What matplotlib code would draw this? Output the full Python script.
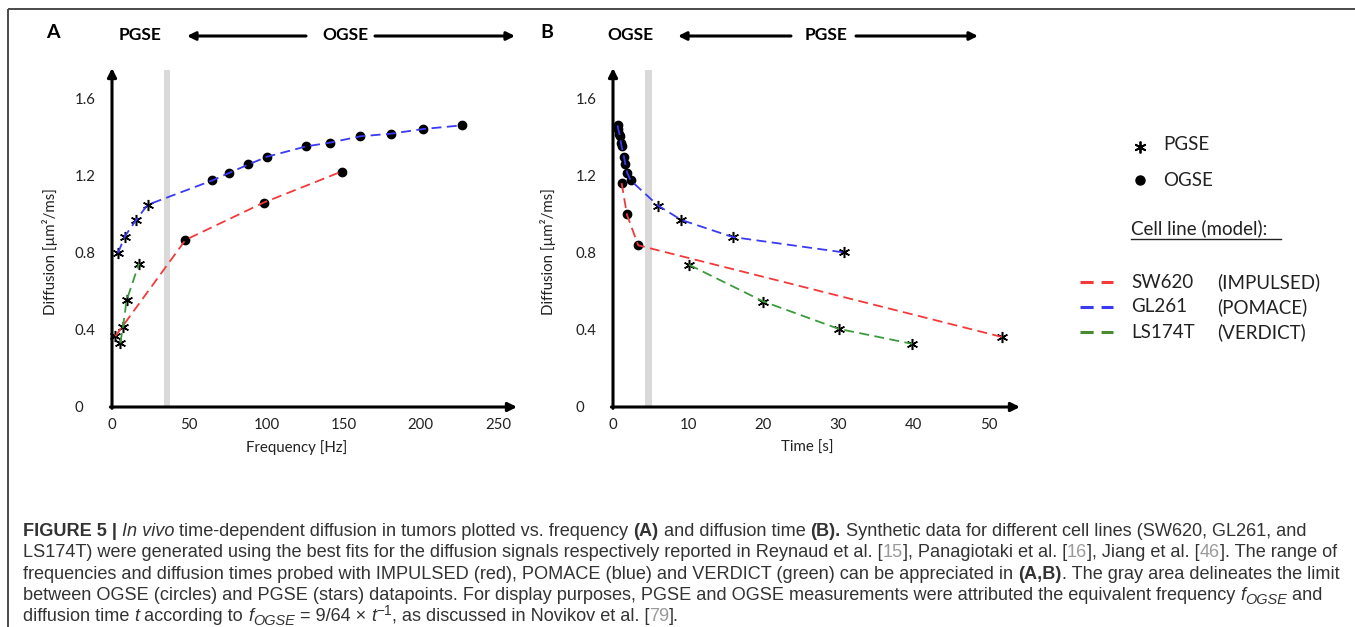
import matplotlib
matplotlib.use("Agg")
import matplotlib.pyplot as plt

# ---------------- data ----------------
# Panel A : frequency [Hz] vs diffusion
red_A_pgse_f = [2.2]
red_A_pgse_D = [0.368]
red_A_ogse_f = [47.6, 98.3, 148.7]
red_A_ogse_D = [0.868, 1.062, 1.223]

blue_A_pgse_f = [3.9, 8.2, 15.5, 23.0]
blue_A_pgse_D = [0.800, 0.885, 0.970, 1.050]
blue_A_ogse_f = [65.0, 75.6, 88.4, 100.4, 125.9, 141.0, 160.8, 181.0, 201.5, 226.5]
blue_A_ogse_D = [1.177, 1.215, 1.260, 1.300, 1.354, 1.373, 1.406, 1.420, 1.444, 1.463]

green_A_pgse_f = [5.4, 7.1, 9.5, 17.5]
green_A_pgse_D = [0.333, 0.416, 0.555, 0.745]

# Panel B : time [s] vs diffusion
red_B_ogse_t = [1.15, 1.85, 3.35]
red_B_ogse_D = [1.163, 1.000, 0.840]
red_B_pgse_t = [51.7]
red_B_pgse_D = [0.364]

blue_B_ogse_t = [0.60, 0.70, 0.85, 0.95, 1.05, 1.15, 1.45, 1.65, 1.90, 2.35]
blue_B_ogse_D = [1.463, 1.444, 1.420, 1.406, 1.373, 1.354, 1.300, 1.260, 1.215, 1.177]
blue_B_pgse_t = [6.0, 9.07, 15.9, 30.7]
blue_B_pgse_D = [1.046, 0.972, 0.883, 0.803]

green_B_pgse_t = [10.1, 20.0, 30.0, 39.8]
green_B_pgse_D = [0.739, 0.548, 0.406, 0.328]

xticks_A = [0, 50, 100, 150, 200, 250]
xticks_B = [0, 10, 20, 30, 40, 50]
yticks = [0, 0.4, 0.8, 1.2, 1.6]
ytick_labels = ["0", "0.4", "0.8", "1.2", "1.6"]

series_names = ["SW620", "GL261", "LS174T"]
model_names = ["(IMPULSED)", "(POMACE)", "(VERDICT)"]

# ---------------- style ----------------
W, H = 1355, 627
DPI = 100
RED, BLUE, GREEN = "#f23a3a", "#3a3af5", "#3c9a3c"
LEG_GREEN = "#4a8a30"
BAND = "#d9d9d9"
CHART_FONT = "Lato"
CAP_FONT = "Liberation Sans"
TXT = "#222222"
ASTER = (6, 2, 0)

plt.rcParams["font.family"] = [CHART_FONT, "DejaVu Sans"]

fig = plt.figure(figsize=(W / DPI, H / DPI), dpi=DPI)
fig.patch.set_facecolor("white")

# overlay in pixel coordinates (y downward)
ov = fig.add_axes([0, 0, 1, 1])
ov.set_xlim(0, W)
ov.set_ylim(H, 0)
ov.axis("off")


def px_axes(left, right, top, bottom):
    return fig.add_axes([left / W, (H - bottom) / H, (right - left) / W, (bottom - top) / H])


def setup(ax, xmax, xticks, band):
    ax.set_facecolor("none")
    ax.set_xlim(0, xmax)
    ax.set_ylim(0, 1.761)
    for s in ax.spines.values():
        s.set_visible(False)
    ax.set_xticks(xticks)
    ax.set_xticklabels([str(v) for v in xticks])
    ax.set_yticks(yticks)
    ax.set_yticklabels(ytick_labels)
    ax.tick_params(length=0, labelsize=10.8, labelcolor=TXT)
    ax.tick_params(axis="x", pad=8)
    ax.tick_params(axis="y", pad=27)
    for lab in ax.get_yticklabels():
        lab.set_ha("left")
    ax.axvspan(band[0], band[1], ymin=0, ymax=0.994, color=BAND, lw=0, zorder=0)
    ap = dict(arrowstyle="-|>", lw=2.2, color="black", mutation_scale=13,
              shrinkA=0, shrinkB=0)
    ax.annotate("", xy=(1.0, 0), xytext=(-0.004, 0), xycoords="axes fraction",
                textcoords="axes fraction", arrowprops=ap, annotation_clip=False)
    ax.annotate("", xy=(0, 1.0), xytext=(0, -0.004), xycoords="axes fraction",
                textcoords="axes fraction", arrowprops=ap, annotation_clip=False)


def series(ax, xs_star, ys_star, xs_circ, ys_circ, color):
    if xs_star:
        ax.plot(xs_star, ys_star, ls="none", marker=ASTER, ms=8, mew=1.1,
                mec="black", zorder=3, clip_on=False)
    if xs_circ:
        ax.plot(xs_circ, ys_circ, ls="none", marker="o", ms=6, mfc="black",
                mec="black", zorder=3, clip_on=False)
    pts = sorted(zip(list(xs_star) + list(xs_circ), list(ys_star) + list(ys_circ)))
    ax.plot([p[0] for p in pts], [p[1] for p in pts], color=color, lw=1.3,
            dashes=(5.5, 3.0), zorder=4, clip_on=False)


# ---------------- panel A ----------------
axA = px_axes(112, 517, 68, 407)
setup(axA, 405 / 1.544, xticks_A, (33.4, 37.7))
series(axA, red_A_pgse_f, red_A_pgse_D, red_A_ogse_f, red_A_ogse_D, RED)
series(axA, blue_A_pgse_f, blue_A_pgse_D, blue_A_ogse_f, blue_A_ogse_D, BLUE)
series(axA, green_A_pgse_f, green_A_pgse_D, [], [], GREEN)

# ---------------- panel B ----------------
axB = px_axes(613, 1020, 68, 407)
setup(axB, 407 / 7.52, xticks_B, (4.23, 5.2))
series(axB, red_B_pgse_t, red_B_pgse_D, red_B_ogse_t, red_B_ogse_D, RED)
series(axB, blue_B_pgse_t, blue_B_pgse_D, blue_B_ogse_t, blue_B_ogse_D, BLUE)
series(axB, green_B_pgse_t, green_B_pgse_D, [], [], GREEN)

# axis labels (pixel positions)
ylab = "Diffusion [µm²/ms]"
ov.text(297, 448, "Frequency [Hz]", ha="center", va="center", fontsize=10.8, color=TXT)
ov.text(807, 448, "Time [s]", ha="center", va="center", fontsize=10.8, color=TXT)
ov.text(50, 252, ylab, ha="center", va="center", rotation=90, fontsize=10.8, color=TXT)
ov.text(548, 252, ylab, ha="center", va="center", rotation=90, fontsize=10.8, color=TXT)

# ---------------- headers ----------------
hdr = dict(fontsize=12.5, fontweight="bold", va="center", color="black")
ov.text(53, 33, "A", ha="center", fontsize=14, fontweight="bold", va="center", color="black")
ov.text(140, 35, "PGSE", ha="center", **hdr)
ov.text(345, 35, "OGSE", ha="center", **hdr)
ov.text(547, 33, "B", ha="center", fontsize=14, fontweight="bold", va="center", color="black")
ov.text(630, 35, "OGSE", ha="center", **hdr)
ov.text(826, 35, "PGSE", ha="center", **hdr)
hap = dict(arrowstyle="-|>", lw=2.2, color="black", mutation_scale=12, shrinkA=0, shrinkB=0)
for tip, start in [((187, 36), (306, 36)), ((515, 36), (375, 36)),
                   ((678, 36), (791, 36)), ((978, 36), (856, 36))]:
    ov.annotate("", xy=tip, xytext=start, arrowprops=hap)

# ---------------- legend ----------------
ov.plot([1140], [147], ls="none", marker=ASTER, ms=8.5, mew=1.3, mec="black")
ov.plot([1140], [180], ls="none", marker="o", ms=6.5, mfc="black", mec="black")
leg = dict(fontsize=13.5, va="center", ha="left", color=TXT)
ov.text(1163, 145, "PGSE", **leg)
ov.text(1163, 180, "OGSE", **leg)
ov.text(1131, 228, "Cell line (model):", **leg)
ov.plot([1131, 1281], [239, 239], color=TXT, lw=1.0)
for i, (col, nm, md) in enumerate(zip([RED, BLUE, LEG_GREEN], series_names, model_names)):
    y = 282 + 25 * i
    ov.plot([1080, 1113], [y, y], color=col, lw=2.2, dashes=(4.3, 2.6))
    ov.text(1131, y, nm, **leg)
    ov.text(1217, y, md, **leg)

# ---------------- frame ----------------
ov.plot([7.5, W], [8.5, 8.5], color="#4a4a4a", lw=1.4, solid_capstyle="butt")
ov.plot([7.5, 7.5], [8.5, H], color="#4a4a4a", lw=1.4, solid_capstyle="butt")

# ---------------- caption ----------------
renderer = fig.canvas.get_renderer()
CAP_FS = 13.05
CAP_COL = "#333333"
REF_COL = "#9a9a9a"


def measure(s, props):
    t1 = ov.text(0, 0, "|" + s + "|", **props)
    t2 = ov.text(0, 0, "||", **props)
    w = t1.get_window_extent(renderer).width - t2.get_window_extent(renderer).width
    t1.remove()
    t2.remove()
    return w


def draw_line(x, y, segs):
    for s, st in segs:
        scale = st.get("scale", 1.0)
        props = dict(fontsize=CAP_FS * scale, family=[CAP_FONT, "DejaVu Sans"],
                     fontweight=st.get("weight", "normal"),
                     fontstyle=st.get("style", "normal"),
                     color=st.get("color", CAP_COL), va="baseline", ha="left")
        ov.text(x, y + st.get("dy", 0), s, **props)
        x += measure(s, props)


N = {}
B = {"weight": "bold"}
I = {"style": "italic"}
G = {"color": REF_COL}
SUB = {"style": "italic", "scale": 0.8, "dy": 4}
SUP = {"scale": 0.75, "dy": -6}

cap_lines = [
    [("FIGURE 5 | ", B), ("In vivo", I),
     (" time-dependent diffusion in tumors plotted vs. frequency ", N), ("(A)", B),
     (" and diffusion time ", N), ("(B).", B),
     (" Synthetic data for different cell lines (SW620, GL261, and", N)],
    [("LS174T) were generated using the best fits for the diffusion signals respectively reported in Reynaud et al. [", N),
     ("15", G), ("], Panagiotaki et al. [", N), ("16", G), ("], Jiang et al. [", N), ("46", G),
     ("]. The range of", N)],
    [("frequencies and diffusion times probed with IMPULSED (red), POMACE (blue) and VERDICT (green) can be appreciated in ", N),
     ("(A,B)", B), (". The gray area delineates the limit", N)],
    [("between OGSE (circles) and PGSE (stars) datapoints. For display purposes, PGSE and OGSE measurements were attributed the equivalent frequency ", N),
     ("f", I), ("OGSE", SUB), (" and", N)],
    [("diffusion time ", N), ("t", I), (" according to ", N), ("f", I), ("OGSE", SUB),
     (" = 9/64 × ", N), ("t", I), ("−1", SUP), (", as discussed in Novikov et al. [", N),
     ("79", G), ("].", N)],
]
for k, segs in enumerate(cap_lines):
    draw_line(23, 536 + 21.3 * k, segs)

fig.savefig("out.png", dpi=DPI, facecolor="white")
